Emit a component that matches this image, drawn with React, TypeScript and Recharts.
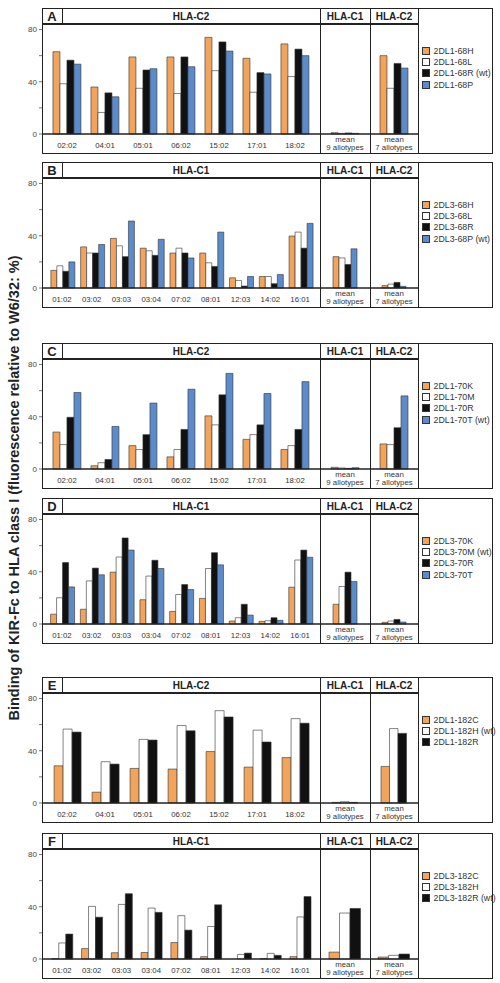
import React from 'react';
import { BarChart, Bar, XAxis, YAxis } from 'recharts';

const hlaC2 = ['02:02', '04:01', '05:01', '06:02', '15:02', '17:01', '18:02'];
const hlaC1 = ['01:02', '03:02', '03:03', '03:04', '07:02', '08:01', '12:03', '14:02', '16:01'];
const meanLabels = ['mean|9 allotypes', 'mean|7 allotypes'];
const yTicks = [0, 20, 40, 60, 80];

// every series: allotype values, then mean of 9 HLA-C1 and mean of 7 HLA-C2
const a68H = [63, 36, 59, 59, 74, 58, 69, 1, 60];
const a68L = [38.5, 16.5, 35, 31, 48.5, 32, 44, 0.5, 35];
const a68R = [56.5, 31.5, 49, 59, 70.5, 47, 65, 0.8, 54];
const a68P = [53.5, 28.5, 50, 51.5, 63.5, 46, 60, 0.5, 50.5];

const b68H = [13.5, 31.5, 38, 30.5, 26.8, 26.8, 7.8, 8.8, 39.8, 24, 1.8];
const b68L = [17, 26.8, 32.3, 28.5, 30.5, 19.3, 5.8, 8.8, 42.8, 23, 3];
const b68R = [12.8, 26.8, 24, 25, 26.8, 16.5, 1.5, 3.3, 30.5, 18, 4.3];
const b68P = [20, 33.3, 51.3, 37.3, 23, 42.8, 8.8, 10.3, 49.5, 30, 1.3];

const c70K = [28.3, 2.5, 17.9, 9.3, 40.7, 22.7, 14.9, 1.3, 19.2];
const c70M = [18.7, 4.8, 14.9, 14.9, 33.8, 26.3, 17.9, 0.8, 18.7];
const c70R = [39.6, 7.3, 26.3, 30.3, 56.8, 33.8, 30.3, 0.5, 31.6];
const c70T = [58.6, 32.6, 50.5, 61.1, 73.2, 57.8, 66.9, 1, 56];

const d70K = [7.5, 11.3, 39.7, 18.6, 9.6, 19.6, 2.3, 2, 28.2, 15.1, 1.3];
const d70M = [20.1, 33, 51.3, 36.7, 22.6, 42.5, 4.8, 2.5, 49, 28.7, 2.3];
const d70R = [47, 42.8, 65.9, 48.8, 30.2, 54.6, 15.1, 4.8, 56.6, 39.7, 3.5];
const d70T = [28.4, 37.7, 56.6, 42.5, 26.4, 45.3, 6.8, 2.8, 51.1, 32.5, 1.5];

const e182C = [28.5, 8.3, 26.5, 26, 39.4, 27.5, 34.8, 0.5, 28];
const e182H = [56.6, 31.6, 48.7, 59.3, 70.7, 55.8, 64.6, 1, 57];
const e182R = [54.3, 29.8, 48.2, 55.3, 65.9, 46.7, 61.1, 0.5, 53.3];

const f182C = [0.3, 8, 4.8, 5, 12.6, 1.8, 0, 0.3, 1.8, 5.3, 1.5];
const f182H = [12.3, 40.3, 41.8, 39, 33.2, 24.9, 3.5, 4.3, 32.2, 35.2, 2.8];
const f182R = [19.1, 32, 50, 35.7, 22.1, 41.5, 4.5, 2.8, 47.8, 38.7, 3.8];

const ORANGE = '#f2a35c';
const WHITE = '#ffffff';
const BLACK = '#111111';
const BLUE = '#5b8bc9';
const FONT = '"Liberation Sans", Arial, sans-serif';

const panels = [
  { letter: 'A', title: 'HLA-C2', cats: hlaC2, top: 8, gap: '13%', meanBar: 7,
    series: [['2DL1-68H', a68H, ORANGE], ['2DL1-68L', a68L, WHITE], ['2DL1-68R (wt)', a68R, BLACK], ['2DL1-68P', a68P, BLUE]] },
  { letter: 'B', title: 'HLA-C1', cats: hlaC1, top: 162, gap: '13%', meanBar: 6,
    series: [['2DL3-68H', b68H, ORANGE], ['2DL3-68L', b68L, WHITE], ['2DL3-68R', b68R, BLACK], ['2DL3-68P (wt)', b68P, BLUE]] },
  { letter: 'C', title: 'HLA-C2', cats: hlaC2, top: 343, gap: '13%', meanBar: 7,
    series: [['2DL1-70K', c70K, ORANGE], ['2DL1-70M', c70M, WHITE], ['2DL1-70R', c70R, BLACK], ['2DL1-70T (wt)', c70T, BLUE]] },
  { letter: 'D', title: 'HLA-C1', cats: hlaC1, top: 498, gap: '12%', meanBar: 6,
    series: [['2DL3-70K', d70K, ORANGE], ['2DL3-70M (wt)', d70M, WHITE], ['2DL3-70R', d70R, BLACK], ['2DL3-70T', d70T, BLUE]] },
  { letter: 'E', title: 'HLA-C2', cats: hlaC2, top: 677, gap: '16%', meanBar: 8.5,
    series: [['2DL1-182C', e182C, ORANGE], ['2DL1-182H (wt)', e182H, WHITE], ['2DL1-182R', e182R, BLACK]] },
  { letter: 'F', title: 'HLA-C1', cats: hlaC1, top: 833, gap: '16%', meanBar: 10.5,
    series: [['2DL3-182C', f182C, ORANGE], ['2DL3-182H', f182H, WHITE], ['2DL3-182R (wt)', f182R, BLACK]] },
];

const HEAD = 15;
const PLOT = 111;
const AXIS = 20;
const LINE = '#222';

const CatTick = ({ x, y, payload }: any) => {
  const parts = String(payload.value).split('|');
  if (parts.length === 1) {
    return (
      <text x={x} y={y + 13.5} textAnchor="middle" fontSize={7.8} fill="#333" fontFamily={FONT}>
        {payload.value}
      </text>
    );
  }
  return (
    <text textAnchor="middle" fontSize={7.8} fill="#333" fontFamily={FONT}>
      <tspan x={x} y={y + 7.5}>{parts[0]}</tspan>
      <tspan x={x} y={y + 16}>{parts[1]}</tspan>
    </text>
  );
};

const Rule = ({ l, t, w, h }: any) => (
  <div style={{ position: 'absolute', left: l, top: t, width: w, height: h, background: LINE }} />
);

const Panel = ({ p }: any) => {
  const n = p.cats.length;
  const rows = p.cats.map((c: string, i: number) => {
    const r: any = { cat: c };
    p.series.forEach((s: any, k: number) => (r['s' + k] = s[1][i]));
    return r;
  });
  const meanRows = (j: number) => {
    const r: any = { cat: meanLabels[j] };
    p.series.forEach((s: any, k: number) => (r['s' + k] = s[1][n + j]));
    return [r];
  };
  const T = p.top;
  const H = HEAD + PLOT + AXIS;
  const bars = (size?: number) =>
    p.series.map((s: any, k: number) => (
      <Bar key={k} dataKey={'s' + k} fill={s[2]} stroke="#333" strokeWidth={0.6} barSize={size} isAnimationActive={false} />
    ));
  const xAxis = (pad: number) => (
    <XAxis dataKey="cat" type="category" height={AXIS} tickSize={0} tickMargin={0} interval={0}
      axisLine={{ stroke: LINE, strokeWidth: 1.5 }} tick={<CatTick />} padding={{ left: pad, right: pad }} />
  );
  const cell = (l: number, w: number, text: string, size: number) => (
    <div style={{ position: 'absolute', left: l, top: T, width: w, height: HEAD + 1, display: 'flex',
      alignItems: 'center', justifyContent: 'center', fontFamily: FONT, fontWeight: 'bold', fontSize: size, color: '#222' }}>
      {text}
    </div>
  );
  return (
    <>
      <div style={{ position: 'absolute', left: 0, top: T + HEAD }}>
        <BarChart width={320} height={PLOT + AXIS} data={rows} margin={{ top: 0, right: 0, bottom: 0, left: 0 }}
          barGap={0} barCategoryGap={p.gap}>
          {xAxis(n === 7 ? 6 : 5)}
          <YAxis type="number" domain={[0, 85]} ticks={yTicks} interval={0} width={42} tickSize={3}
            axisLine={false} tickLine={{ stroke: '#777' }}
            tickFormatter={(v: number) => (v % 40 === 0 ? String(v) : '')}
            tick={{ fontSize: 8, fill: '#444', fontFamily: FONT }} />
          {bars()}
        </BarChart>
      </div>
      {[0, 1].map((j) => (
        <div key={j} style={{ position: 'absolute', left: j === 0 ? 320 : 370, top: T + HEAD }}>
          <BarChart width={j === 0 ? 50 : 48} height={PLOT + AXIS} data={meanRows(j)}
            margin={{ top: 0, right: 0, bottom: 0, left: 0 }} barGap={0}>
            {xAxis(0)}
            <YAxis type="number" domain={[0, 85]} hide />
            {bars(p.meanBar)}
          </BarChart>
        </div>
      ))}
      <div style={{ position: 'absolute', left: 42, top: T, width: 451, height: H, border: `1.5px solid ${LINE}`, boxSizing: 'border-box' }} />
      <Rule l={42} t={T + HEAD} w={376} h={1.5} />
      <Rule l={61.5} t={T} w={1.5} h={HEAD} />
      <Rule l={319.5} t={T} w={1.5} h={H} />
      <Rule l={369.5} t={T} w={1.5} h={H} />
      <Rule l={417.5} t={T} w={1.5} h={H} />
      {cell(42, 20, p.letter, 13)}
      {cell(62, 258, p.title, 10)}
      {cell(320, 50, 'HLA-C1', 10)}
      {cell(370, 48, 'HLA-C2', 10)}
      <div style={{ position: 'absolute', left: 421.5, top: T + 37, fontFamily: FONT, fontSize: 8.8, color: '#333' }}>
        {p.series.map((s: any, k: number) => (
          <div key={k} style={{ display: 'flex', alignItems: 'center', height: 11.3, whiteSpace: 'nowrap' }}>
            <span style={{ display: 'inline-block', width: 6, height: 6, background: s[2], border: '0.8px solid #333', marginRight: 4 }} />
            {s[0]}
          </div>
        ))}
      </div>
    </>
  );
};

export default function App() {
  return (
    <div style={{ position: 'absolute', left: 0, top: 0, width: 500, height: 983, background: '#fff' }}>
      {panels.map((p) => (
        <Panel key={p.letter} p={p} />
      ))}
      <div style={{ position: 'absolute', left: 14, top: 488, transform: 'translate(-50%, -50%) rotate(-90deg)',
        whiteSpace: 'nowrap', fontFamily: FONT, fontWeight: 'bold', fontSize: 14.5, color: '#222' }}>
        Binding of KIR-Fc to HLA class I (fluorescence relative to W6/32: %)
      </div>
    </div>
  );
}
